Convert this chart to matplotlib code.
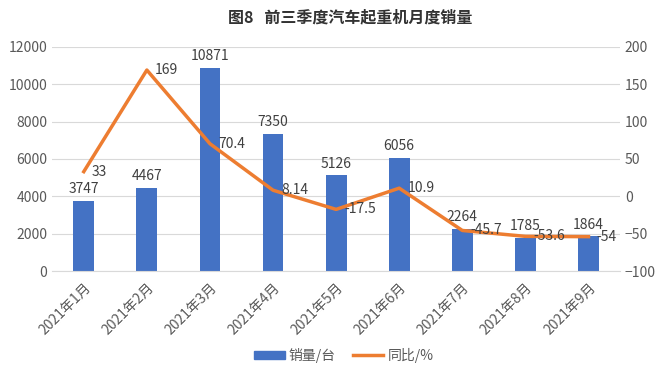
import numpy as np
import matplotlib.pyplot as plt
from matplotlib.patches import Patch
from matplotlib.lines import Line2D

plt.rcParams['font.family'] = ['Noto Sans CJK SC', 'DejaVu Sans']

# 数据
months = ['2021年1月', '2021年2月', '2021年3月', '2021年4月', '2021年5月',
          '2021年6月', '2021年7月', '2021年8月', '2021年9月']
sales = [3747, 4467, 10871, 7350, 5126, 6056, 2264, 1785, 1864]
yoy = [33, 169, 70.4, 8.14, -17.5, 10.9, -45.7, -53.6, -54]
yoy_labels = ['33', '169', '70.4', '8.14', '-17.5', '10.9', '-45.7', '-53.6', '-54']

blue = '#4472C4'
orange = '#ED7D31'
gray = '#595959'

fig = plt.figure(figsize=(6.61, 3.78), dpi=100)
ax = fig.add_axes([0.079, 0.283, 0.859, 0.593])
ax2 = ax.twinx()

x = np.arange(len(months))
ax.bar(x, sales, width=0.33, color=blue, zorder=2)
ax.set_ylim(0, 12000)
ax.set_yticks(np.arange(0, 12001, 2000))
ax.set_xlim(-0.5, len(months) - 0.5)
ax.grid(axis='y', color='#D9D9D9', linewidth=0.8, zorder=0)
ax.set_axisbelow(True)

# 柱子上的数值
for xi, v in zip(x, sales):
    ax.text(xi, v + 250, str(v), ha='center', va='bottom', fontsize=10, color='#404040')

# 同比折线
ax2.plot(x, yoy, color=orange, linewidth=2.5, zorder=3)
ax2.set_ylim(-100, 200)
ax2.set_yticks(np.arange(-100, 201, 50))
for xi, v, s in zip(x, yoy, yoy_labels):
    ax2.text(xi + 0.13, v, s, ha='left', va='center', fontsize=10, color='#404040')

ax.set_xticks(x)
ax.set_xticklabels(months, rotation=45, ha='right', rotation_mode='anchor', fontsize=10, color=gray)

for a in (ax, ax2):
    for sp_ in a.spines.values():
        sp_.set_visible(False)
    a.tick_params(length=0, labelsize=10, labelcolor=gray)
ax.tick_params(axis='x', pad=7)
ax.spines['bottom'].set_visible(True)
ax.spines['bottom'].set_color('#D9D9D9')

fig.text(0.53, 0.955, '图8   前三季度汽车起重机月度销量', ha='center', va='center',
         fontsize=11.5, fontweight='bold', color='#333333')

handles = [Patch(color=blue), Line2D([0], [0], color=orange, linewidth=2.5)]
fig.legend(handles, ['销量/台', '同比/%'], loc='center', bbox_to_anchor=(0.52, 0.06),
           ncol=2, frameon=False, fontsize=10, labelcolor=gray,
           handlelength=2.2, handleheight=0.6, columnspacing=1.2, handletextpad=0.3)

fig.savefig('out.png', dpi=100)
